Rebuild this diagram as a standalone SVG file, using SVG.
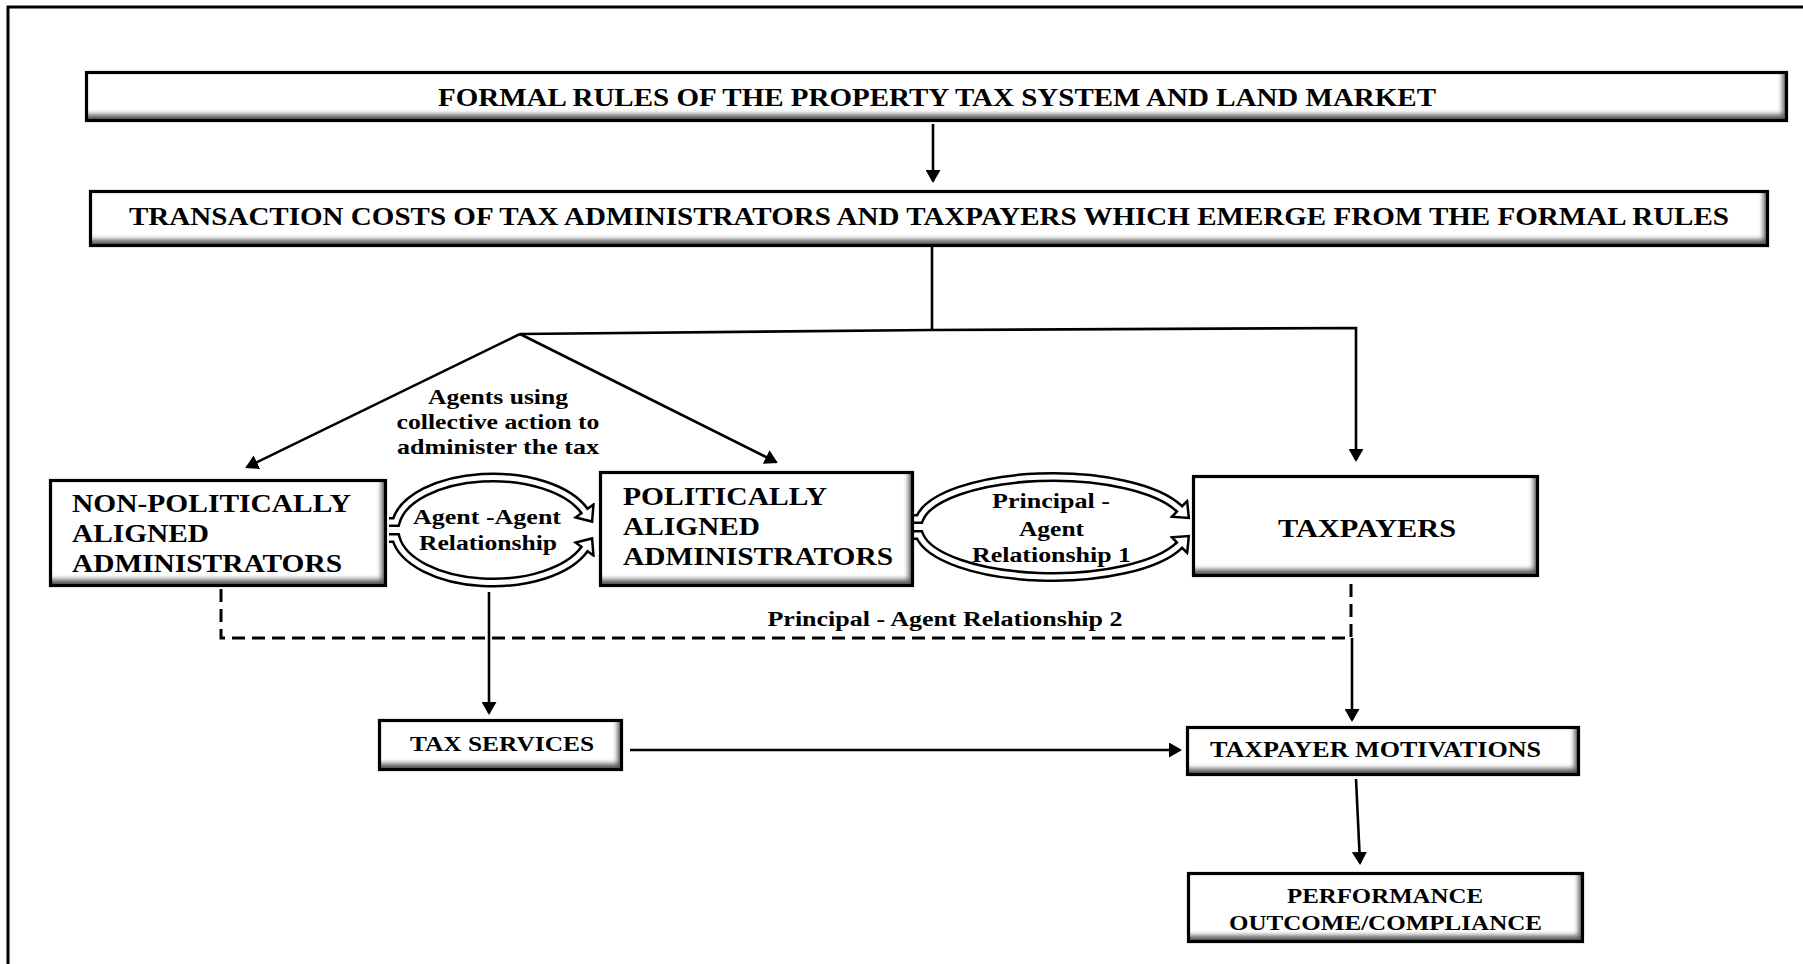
<svg xmlns="http://www.w3.org/2000/svg" width="1803" height="964" viewBox="0 0 1803 964">
<style>
.t{font-family:"Liberation Serif","Times New Roman",serif;font-weight:bold;fill:#000}
.c{text-anchor:middle}
.box{fill:#fff;filter:url(#bevel)}
.bd{fill:none;stroke:#000;stroke-width:3.2}
.ln{fill:none;stroke:#000;stroke-width:2.6}
.dash{fill:none;stroke:#000;stroke-width:3;stroke-dasharray:13 7}
.bo{fill:none;stroke:#000;stroke-width:10}
.bi{fill:none;stroke:#fff;stroke-width:5}
.bm{fill:none;stroke:none;marker-end:url(#bh)}
</style>
<defs>
<filter id="bevel" x="-0.1" y="-0.3" width="1.2" height="1.6" color-interpolation-filters="sRGB">
<feComponentTransfer in="SourceAlpha" result="inv"><feFuncA type="table" tableValues="1 0"/></feComponentTransfer>
<feOffset in="inv" dx="-4" dy="-6" result="off"/>
<feGaussianBlur in="off" stdDeviation="2.8" result="blur"/>
<feFlood flood-color="#5a5a5a" result="col"/>
<feComposite in="col" in2="blur" operator="in" result="sh"/>
<feComposite in="sh" in2="SourceAlpha" operator="in" result="inner"/>
<feMerge><feMergeNode in="SourceGraphic"/><feMergeNode in="inner"/></feMerge>
</filter>
<marker id="ah" markerUnits="userSpaceOnUse" markerWidth="13" markerHeight="15" viewBox="0 0 13 15" refX="11" refY="7.5" orient="auto">
<path d="M0,0 L13,7.5 L0,15 z" fill="#000"/>
</marker>
<marker id="bh" markerUnits="userSpaceOnUse" markerWidth="19" markerHeight="26" viewBox="-3 -13 19 26" refX="0" refY="0" orient="auto">
<path d="M-2,-2.5 L0,-2.5 L0,-11 L13,0 L0,11 L0,2.5 L-2,2.5 z" fill="#fff"/>
<path d="M-2,-3.75 L0,-3.75 L0,-11 L13,0 L0,11 L0,3.75 L-2,3.75" fill="none" stroke="#000" stroke-width="2.5"/>
</marker>
</defs>
<rect width="1803" height="964" fill="#fff"/>
<path d="M8,964 V7 H1803" fill="none" stroke="#000" stroke-width="3"/>

<g id="connectors">
<path class="ln" d="M933,124 V181" marker-end="url(#ah)"/>
<path class="ln" d="M932,247 V330"/>
<path class="ln" d="M520,334 L932,330 L1356,328 V460" marker-end="url(#ah)"/>
<path class="ln" d="M520,334 L247,467" marker-end="url(#ah)"/>
<path class="ln" d="M520,334 L776,462" marker-end="url(#ah)"/>
<path class="ln" d="M489,592 V713" marker-end="url(#ah)"/>
<path class="ln" d="M630,750 H1180" marker-end="url(#ah)"/>
<path class="ln" d="M1352,638 V720" marker-end="url(#ah)"/>
<path class="ln" d="M1356,779 L1360,863" marker-end="url(#ah)"/>
<path class="dash" d="M221,589 V638 H1351 V578"/>
<g id="agent-agent">
<path class="bo" d="M389,522 L395.9,522 A98,52 0 0,1 584.5,511"/>
<path class="bi" d="M389,522 L395.9,522 A98,52 0 0,1 584.5,511"/>
<path class="bm" d="M389,522 L395.9,522 A98,52 0 0,1 584.5,511"/>
<path class="bo" d="M389,538 L395.9,538 A98,52 0 0,0 584.5,549"/>
<path class="bi" d="M389,538 L395.9,538 A98,52 0 0,0 584.5,549"/>
<path class="bm" d="M389,538 L395.9,538 A98,52 0 0,0 584.5,549"/>
<text class="t c" font-size="20" x="487" y="524" textLength="148" lengthAdjust="spacingAndGlyphs">Agent -Agent</text>
<text class="t c" font-size="20" x="488" y="550" textLength="138" lengthAdjust="spacingAndGlyphs">Relationship</text>
</g>
<g id="principal-agent-1">
<path class="bo" d="M914,519 L919.4,519 A135,49 0 0,1 1179.5,508.9"/>
<path class="bi" d="M914,519 L919.4,519 A135,49 0 0,1 1179.5,508.9"/>
<path class="bm" d="M914,519 L919.4,519 A135,49 0 0,1 1179.5,508.9"/>
<path class="bo" d="M914,535 L919.4,535 A135,49 0 0,0 1179.5,545.1"/>
<path class="bi" d="M914,535 L919.4,535 A135,49 0 0,0 1179.5,545.1"/>
<path class="bm" d="M914,535 L919.4,535 A135,49 0 0,0 1179.5,545.1"/>
<text class="t c" font-size="20" x="1051" y="508" textLength="118" lengthAdjust="spacingAndGlyphs">Principal -</text>
<text class="t c" font-size="20" x="1051.5" y="536" textLength="65" lengthAdjust="spacingAndGlyphs">Agent</text>
<text class="t c" font-size="20" x="1051.5" y="562" textLength="159" lengthAdjust="spacingAndGlyphs">Relationship 1</text>
</g>
<text class="t c" font-size="21" x="498" y="404" textLength="140" lengthAdjust="spacingAndGlyphs">Agents using</text>
<text class="t c" font-size="21" x="498" y="429" textLength="203" lengthAdjust="spacingAndGlyphs">collective action to</text>
<text class="t c" font-size="21" x="498" y="454" textLength="202" lengthAdjust="spacingAndGlyphs">administer the tax</text>
<text class="t c" font-size="20" x="945" y="626" textLength="355" lengthAdjust="spacingAndGlyphs">Principal - Agent Relationship 2</text>
</g>

<g id="formal-rules">
<rect class="box" x="86.5" y="72.5" width="1700" height="48"/>
<rect class="bd" x="86.5" y="72.5" width="1700" height="48"/>
<text class="t c" font-size="26" x="937" y="106" textLength="998" lengthAdjust="spacingAndGlyphs">FORMAL RULES OF THE PROPERTY TAX SYSTEM AND LAND MARKET</text>
</g>
<g id="transaction-costs">
<rect class="box" x="90.5" y="191.5" width="1677" height="54"/>
<rect class="bd" x="90.5" y="191.5" width="1677" height="54"/>
<text class="t c" font-size="25" x="929" y="225" textLength="1600" lengthAdjust="spacingAndGlyphs">TRANSACTION COSTS OF TAX ADMINISTRATORS AND TAXPAYERS WHICH EMERGE FROM THE FORMAL RULES</text>
</g>
<g id="non-politically-aligned">
<rect class="box" x="50.5" y="480.5" width="335" height="105"/>
<rect class="bd" x="50.5" y="480.5" width="335" height="105"/>
<text class="t" font-size="26" x="72" y="512" textLength="279" lengthAdjust="spacingAndGlyphs">NON-POLITICALLY</text>
<text class="t" font-size="26" x="72" y="542" textLength="137" lengthAdjust="spacingAndGlyphs">ALIGNED</text>
<text class="t" font-size="26" x="72" y="572" textLength="270" lengthAdjust="spacingAndGlyphs">ADMINISTRATORS</text>
</g>
<g id="politically-aligned">
<rect class="box" x="600.5" y="472.5" width="312" height="113"/>
<rect class="bd" x="600.5" y="472.5" width="312" height="113"/>
<text class="t" font-size="26" x="623" y="505" textLength="204" lengthAdjust="spacingAndGlyphs">POLITICALLY</text>
<text class="t" font-size="26" x="623" y="535" textLength="137" lengthAdjust="spacingAndGlyphs">ALIGNED</text>
<text class="t" font-size="26" x="623" y="565" textLength="270" lengthAdjust="spacingAndGlyphs">ADMINISTRATORS</text>
</g>
<g id="taxpayers">
<rect class="box" x="1193.5" y="476.5" width="344" height="99"/>
<rect class="bd" x="1193.5" y="476.5" width="344" height="99"/>
<text class="t c" font-size="26" x="1367" y="537" textLength="178" lengthAdjust="spacingAndGlyphs">TAXPAYERS</text>
</g>
<g id="tax-services">
<rect class="box" x="379.5" y="720.5" width="242" height="49"/>
<rect class="bd" x="379.5" y="720.5" width="242" height="49"/>
<text class="t c" font-size="22" x="502" y="751" textLength="184" lengthAdjust="spacingAndGlyphs">TAX SERVICES</text>
</g>
<g id="taxpayer-motivations">
<rect class="box" x="1187.5" y="727.5" width="391" height="47"/>
<rect class="bd" x="1187.5" y="727.5" width="391" height="47"/>
<text class="t c" font-size="23" x="1375.5" y="757" textLength="331" lengthAdjust="spacingAndGlyphs">TAXPAYER MOTIVATIONS</text>
</g>
<g id="performance">
<rect class="box" x="1188.5" y="873.5" width="394" height="68"/>
<rect class="bd" x="1188.5" y="873.5" width="394" height="68"/>
<text class="t c" font-size="22" x="1385" y="903" textLength="196" lengthAdjust="spacingAndGlyphs">PERFORMANCE</text>
<text class="t c" font-size="22" x="1385.5" y="930" textLength="313" lengthAdjust="spacingAndGlyphs">OUTCOME/COMPLIANCE</text>
</g>
</svg>
